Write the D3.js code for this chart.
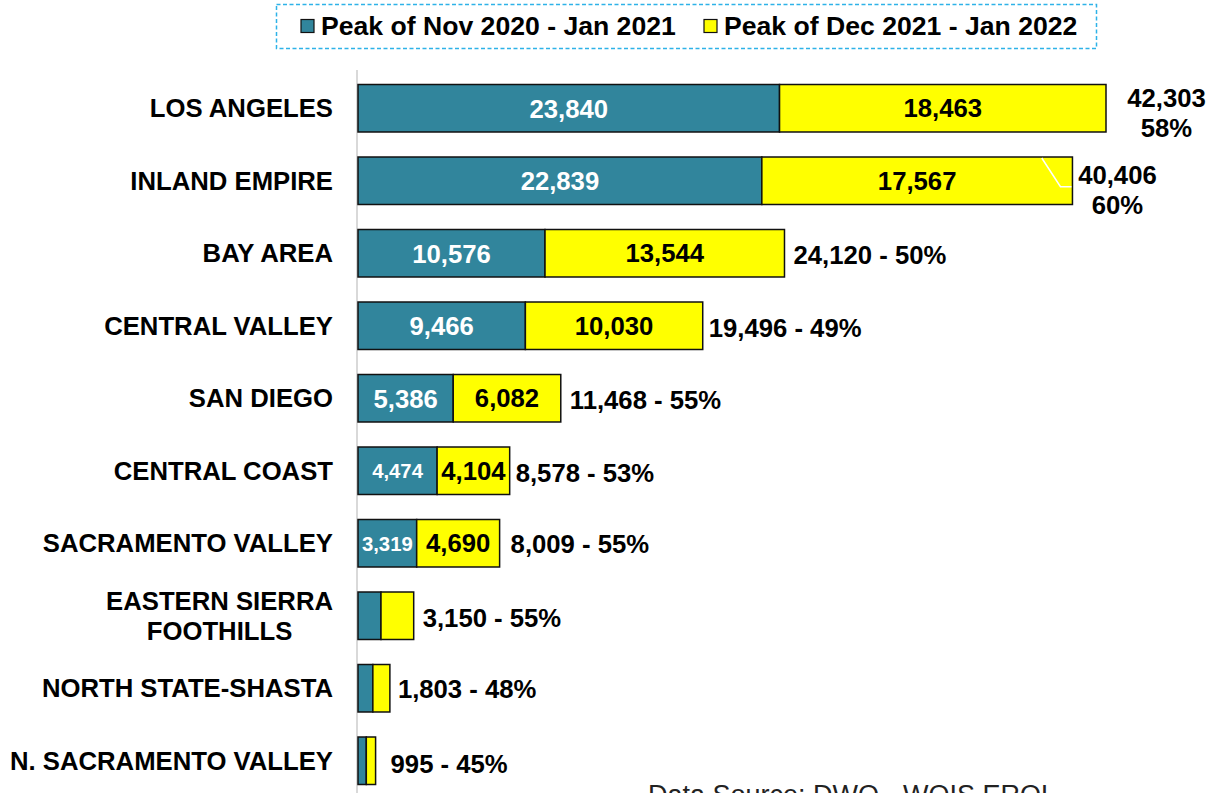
<!DOCTYPE html>
<html>
<head>
<meta charset="utf-8">
<script src="https://cdn.jsdelivr.net/npm/d3@7/dist/d3.min.js"></script>
<style>
  html, body { margin: 0; padding: 0; background: #fff; }
  svg { display: block; font-family: "Liberation Sans", Arial, sans-serif; }
</style>
</head>
<body>
<svg id="chart" width="1216" height="793"></svg>
<script>
// ---------- DATA ----------
const categories = ["LOS ANGELES", "INLAND EMPIRE", "BAY AREA", "CENTRAL VALLEY", "SAN DIEGO",
  "CENTRAL COAST", "SACRAMENTO VALLEY", "EASTERN SIERRA\nFOOTHILLS", "NORTH STATE-SHASTA", "N. SACRAMENTO VALLEY"];
const peak2020 = [23840, 22839, 10576, 9466, 5386, 4474, 3319, 1300, 840, 470];
const peak2021 = [18463, 17567, 13544, 10030, 6082, 4104, 4690, 1850, 963, 525];
const pctLabels = ["58%", "60%", "50%", "49%", "55%", "53%", "55%", "55%", "48%", "45%"];
const seriesNames = ["Peak of Nov 2020 - Jan 2021", "Peak of Dec 2021 - Jan 2022"];
const sourceNote = "Data Source: DWQ - WQIS EROL";

// ---------- LAYOUT / STYLE ----------
const colors = ["#31859C", "#FFFF00"];
const FS = 25.7;
const innerShown = [true, true, true, true, true, true, true, false, false, false];
const innerBlueSize = [FS, FS, FS, FS, FS, 20.3, 20.3, FS, FS, FS];
const twoLineTotal = [true, true, false, false, false, false, false, false, false, false];
const totalDx = [60.5, 45, 9, 6, 9, 6, 11, 9, 8, 15];
const totalDy = [5, 9.5, 2, 2, 2, 2, 1, 2, 1, 3];

const svg = d3.select("#chart");
svg.append("rect").attr("width", 1216).attr("height", 793).attr("fill", "#fff");

const x = d3.scaleLinear().domain([0, 45000]).range([358, 358 + 45000 * 0.017682]);
const y = d3.scaleBand().domain(categories).range([72, 797]).paddingInner(0.345).paddingOuter(0.1725);

const fmt = d3.format(",");
const rows = categories.map((c, i) => ({
  cat: c, i, a: peak2020[i], b: peak2021[i], total: peak2020[i] + peak2021[i], pct: pctLabels[i]
}));

// axis line
svg.append("line").attr("x1", 357).attr("x2", 357).attr("y1", 70).attr("y2", 793)
  .attr("stroke", "#d9d9d9").attr("stroke-width", 2);

// category labels
const catG = svg.append("g");
rows.forEach(r => {
  const lines = r.cat.split("\n");
  const cy = y(r.cat) + y.bandwidth() / 2;
  const lh = 29.5;
  const t = catG.append("text")
    .attr("font-size", FS).attr("font-weight", "bold").attr("fill", "#000");
  if (lines.length === 1) {
    t.attr("x", 333).attr("y", cy + 9).attr("text-anchor", "end").text(lines[0]);
  } else {
    lines.forEach((ln, k) => {
      t.append("tspan").attr("y", cy + 9 - lh * (lines.length - 1) / 2 + k * lh).text(ln);
    });
    const widths = [];
    t.selectAll("tspan").each(function () { widths.push(this.getComputedTextLength()); });
    const maxW = d3.max(widths);
    t.attr("text-anchor", "middle");
    t.selectAll("tspan").attr("x", 333 - maxW / 2);
  }
});

// bars
const barG = svg.append("g");
barG.selectAll("rect.a").data(rows).join("rect")
  .attr("x", x(0)).attr("y", d => y(d.cat))
  .attr("width", d => x(d.a) - x(0)).attr("height", y.bandwidth())
  .attr("fill", colors[0]).attr("stroke", "#111").attr("stroke-width", 1.5);
barG.selectAll("rect.b").data(rows).join("rect")
  .attr("x", d => x(d.a)).attr("y", d => y(d.cat))
  .attr("width", d => x(d.total) - x(d.a)).attr("height", y.bandwidth())
  .attr("fill", colors[1]).attr("stroke", "#111").attr("stroke-width", 1.5);

// leader line for Inland Empire label
{
  const r = rows[1];
  const ex = x(r.total), top = y(r.cat), cy = top + y.bandwidth() / 2;
  svg.append("polyline")
    .attr("points", [[ex - 30.7, top + 1], [ex - 12, cy + 6], [ex - 1, cy + 6]].map(p => p.join(",")).join(" "))
    .attr("fill", "none").attr("stroke", "#fff").attr("stroke-width", 1.5);
}

// inner labels
const lblG = svg.append("g").attr("font-weight", "bold");
rows.filter(r => innerShown[r.i]).forEach(r => {
  const cy = y(r.cat) + y.bandwidth() / 2;
  const sa = innerBlueSize[r.i];
  lblG.append("text").attr("x", (x(0) + x(r.a)) / 2).attr("y", cy + sa * 0.36)
    .attr("text-anchor", "middle").attr("font-size", sa).attr("fill", "#fff").text(fmt(r.a));
  lblG.append("text").attr("x", (x(r.a) + x(r.total)) / 2).attr("y", cy + 9)
    .attr("text-anchor", "middle").attr("font-size", FS).attr("fill", "#000").text(fmt(r.b));
});

// total labels
rows.forEach(r => {
  const cy = y(r.cat) + y.bandwidth() / 2;
  const ex = x(r.total);
  if (twoLineTotal[r.i]) {
    const t = lblG.append("text").attr("text-anchor", "middle").attr("font-size", FS).attr("fill", "#000");
    const cx = ex + totalDx[r.i];
    t.append("tspan").attr("x", cx).attr("y", cy + 9 - 15 + totalDy[r.i]).text(fmt(r.total));
    t.append("tspan").attr("x", cx).attr("y", cy + 9 + 15 + totalDy[r.i]).text(r.pct);
  } else {
    lblG.append("text").attr("x", ex + totalDx[r.i]).attr("y", cy + 9 + totalDy[r.i])
      .attr("font-size", FS).attr("fill", "#000").text(fmt(r.total) + " - " + r.pct);
  }
});

// legend
const leg = svg.append("g");
leg.append("rect").attr("x", 276.5).attr("y", 4.5).attr("width", 820).attr("height", 44)
  .attr("fill", "#fff").attr("stroke", "#2EB2E8").attr("stroke-width", 1.5).attr("stroke-dasharray", "4,2.5");
const legX = [301, 704];
seriesNames.forEach((n, k) => {
  leg.append("rect").attr("x", legX[k]).attr("y", 19.5).attr("width", 13).attr("height", 13)
    .attr("fill", colors[k]).attr("stroke", "#111").attr("stroke-width", 1.2);
  leg.append("text").attr("x", legX[k] + 20).attr("y", 34.5)
    .attr("font-size", 26.6).attr("font-weight", "bold").attr("fill", "#000").text(n);
});

// source note
svg.append("text").attr("x", 648).attr("y", 804).attr("font-size", 27).attr("fill", "#222").text(sourceNote);
</script>
</body>
</html>
